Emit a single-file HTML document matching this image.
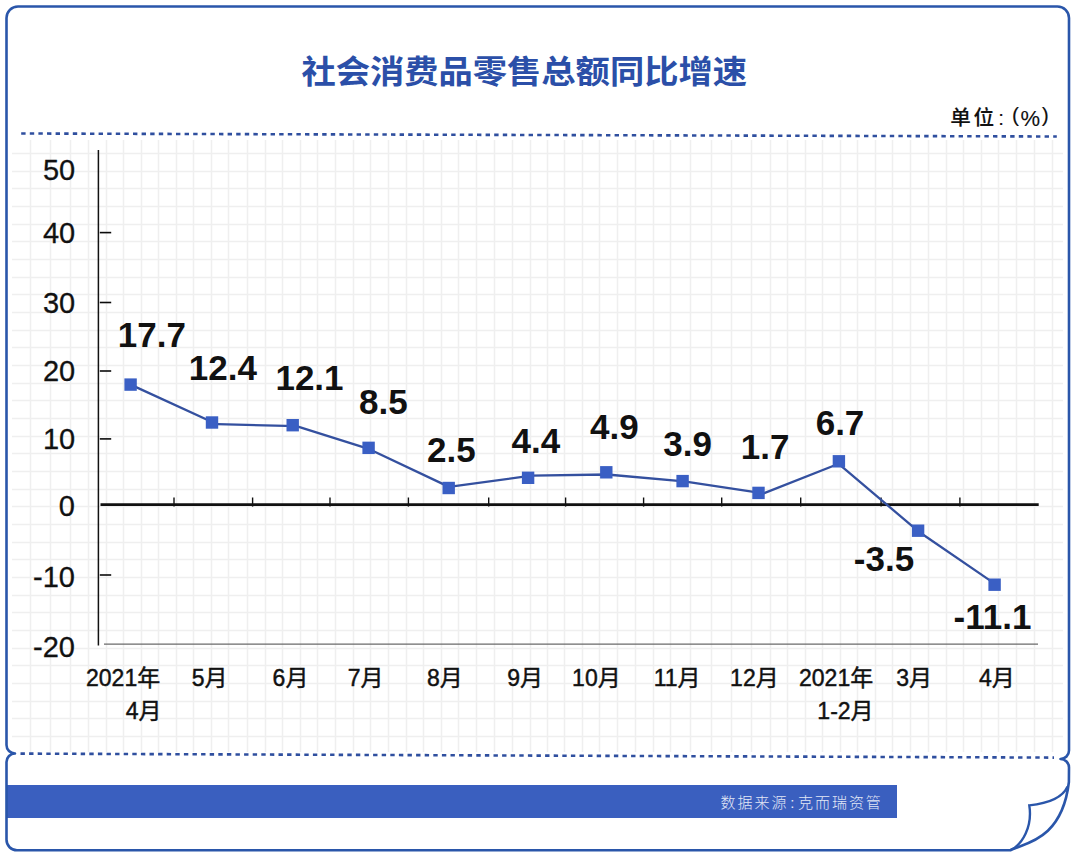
<!DOCTYPE html>
<html><head><meta charset="utf-8"><style>
html,body{margin:0;padding:0;background:#fff;}
body{width:1080px;height:856px;overflow:hidden;position:relative;}
svg{position:absolute;left:0;top:0;}
.dl{font-family:"Liberation Sans", "Noto Sans CJK SC", sans-serif;font-weight:700;font-size:35px;fill:#111;}
.yl{font-family:"Liberation Sans", "Noto Sans CJK SC", sans-serif;font-weight:400;font-size:29px;fill:#111;stroke:#111;stroke-width:0.3px;}
.xl{font-family:"Liberation Sans", "Noto Sans CJK SC", sans-serif;font-weight:400;font-size:23px;fill:#111;stroke:#111;stroke-width:0.45px;}
.title{font-family:"Liberation Sans", "Noto Sans CJK SC", sans-serif;font-weight:700;font-size:34.3px;fill:#2b4fa8;}
.unit{font-family:"Liberation Sans", "Noto Sans CJK SC", sans-serif;font-weight:500;font-size:20.6px;fill:#111;stroke:#111;stroke-width:0.12px;}
.src{font-family:"Liberation Sans", "Noto Sans CJK SC", sans-serif;font-weight:300;font-size:15px;fill:#e3e8f6;}
</style></head><body>
<svg width="1080" height="856" viewBox="0 0 1080 856">
<rect x="0" y="0" width="1080" height="856" fill="#fff"/>
<g stroke="#efefef" stroke-width="1.5"><line x1="30.5" y1="140" x2="30.5" y2="752"/><line x1="50.5" y1="140" x2="50.5" y2="752"/><line x1="70.5" y1="140" x2="70.5" y2="752"/><line x1="88.5" y1="140" x2="88.5" y2="752"/><line x1="106.5" y1="140" x2="106.5" y2="752"/><line x1="123.5" y1="140" x2="123.5" y2="752"/><line x1="141.5" y1="140" x2="141.5" y2="752"/><line x1="158.5" y1="140" x2="158.5" y2="752"/><line x1="176.5" y1="140" x2="176.5" y2="752"/><line x1="193.5" y1="140" x2="193.5" y2="752"/><line x1="211.5" y1="140" x2="211.5" y2="752"/><line x1="228.5" y1="140" x2="228.5" y2="752"/><line x1="247.5" y1="140" x2="247.5" y2="752"/><line x1="265.5" y1="140" x2="265.5" y2="752"/><line x1="282.5" y1="140" x2="282.5" y2="752"/><line x1="300.5" y1="140" x2="300.5" y2="752"/><line x1="317.5" y1="140" x2="317.5" y2="752"/><line x1="335.5" y1="140" x2="335.5" y2="752"/><line x1="353.5" y1="140" x2="353.5" y2="752"/><line x1="370.5" y1="140" x2="370.5" y2="752"/><line x1="388.5" y1="140" x2="388.5" y2="752"/><line x1="406.5" y1="140" x2="406.5" y2="752"/><line x1="423.5" y1="140" x2="423.5" y2="752"/><line x1="441.5" y1="140" x2="441.5" y2="752"/><line x1="458.5" y1="140" x2="458.5" y2="752"/><line x1="476.5" y1="140" x2="476.5" y2="752"/><line x1="494.5" y1="140" x2="494.5" y2="752"/><line x1="512.5" y1="140" x2="512.5" y2="752"/><line x1="530.5" y1="140" x2="530.5" y2="752"/><line x1="547.5" y1="140" x2="547.5" y2="752"/><line x1="564.5" y1="140" x2="564.5" y2="752"/><line x1="582.5" y1="140" x2="582.5" y2="752"/><line x1="599.5" y1="140" x2="599.5" y2="752"/><line x1="617.5" y1="140" x2="617.5" y2="752"/><line x1="635.5" y1="140" x2="635.5" y2="752"/><line x1="653.5" y1="140" x2="653.5" y2="752"/><line x1="670.5" y1="140" x2="670.5" y2="752"/><line x1="690.5" y1="140" x2="690.5" y2="752"/><line x1="711.5" y1="140" x2="711.5" y2="752"/><line x1="731.5" y1="140" x2="731.5" y2="752"/><line x1="751.5" y1="140" x2="751.5" y2="752"/><line x1="770.5" y1="140" x2="770.5" y2="752"/><line x1="787.5" y1="140" x2="787.5" y2="752"/><line x1="805.5" y1="140" x2="805.5" y2="752"/><line x1="822.5" y1="140" x2="822.5" y2="752"/><line x1="840.5" y1="140" x2="840.5" y2="752"/><line x1="857.5" y1="140" x2="857.5" y2="752"/><line x1="875.5" y1="140" x2="875.5" y2="752"/><line x1="892.5" y1="140" x2="892.5" y2="752"/><line x1="910.5" y1="140" x2="910.5" y2="752"/><line x1="928.5" y1="140" x2="928.5" y2="752"/><line x1="946.5" y1="140" x2="946.5" y2="752"/><line x1="963.5" y1="140" x2="963.5" y2="752"/><line x1="981.5" y1="140" x2="981.5" y2="752"/><line x1="998.5" y1="140" x2="998.5" y2="752"/><line x1="1016.5" y1="140" x2="1016.5" y2="752"/><line x1="1034.5" y1="140" x2="1034.5" y2="752"/><line x1="1052.5" y1="140" x2="1052.5" y2="752"/><line x1="12" y1="153.5" x2="1063" y2="153.5"/><line x1="12" y1="171.5" x2="1063" y2="171.5"/><line x1="12" y1="188.5" x2="1063" y2="188.5"/><line x1="12" y1="206.5" x2="1063" y2="206.5"/><line x1="12" y1="224.5" x2="1063" y2="224.5"/><line x1="12" y1="241.5" x2="1063" y2="241.5"/><line x1="12" y1="259.5" x2="1063" y2="259.5"/><line x1="12" y1="277.5" x2="1063" y2="277.5"/><line x1="12" y1="294.5" x2="1063" y2="294.5"/><line x1="12" y1="312.5" x2="1063" y2="312.5"/><line x1="12" y1="330.5" x2="1063" y2="330.5"/><line x1="12" y1="347.5" x2="1063" y2="347.5"/><line x1="12" y1="365.5" x2="1063" y2="365.5"/><line x1="12" y1="383.5" x2="1063" y2="383.5"/><line x1="12" y1="400.5" x2="1063" y2="400.5"/><line x1="12" y1="418.5" x2="1063" y2="418.5"/><line x1="12" y1="436.5" x2="1063" y2="436.5"/><line x1="12" y1="453.5" x2="1063" y2="453.5"/><line x1="12" y1="471.5" x2="1063" y2="471.5"/><line x1="12" y1="489.5" x2="1063" y2="489.5"/><line x1="12" y1="506.5" x2="1063" y2="506.5"/><line x1="12" y1="524.5" x2="1063" y2="524.5"/><line x1="12" y1="542.5" x2="1063" y2="542.5"/><line x1="12" y1="559.5" x2="1063" y2="559.5"/><line x1="12" y1="577.5" x2="1063" y2="577.5"/><line x1="12" y1="595.5" x2="1063" y2="595.5"/><line x1="12" y1="612.5" x2="1063" y2="612.5"/><line x1="12" y1="630.5" x2="1063" y2="630.5"/><line x1="12" y1="648.5" x2="1063" y2="648.5"/><line x1="12" y1="665.5" x2="1063" y2="665.5"/><line x1="12" y1="683.5" x2="1063" y2="683.5"/><line x1="12" y1="701.5" x2="1063" y2="701.5"/><line x1="12" y1="718.5" x2="1063" y2="718.5"/><line x1="12" y1="736.5" x2="1063" y2="736.5"/></g>
<rect x="6.5" y="785" width="890.5" height="33" fill="#3a5fbf"/>
<path d="M6.5,18 A11.5,11.5 0 0 1 18,6.5 L1057.5,6.5 A11.5,11.5 0 0 1 1069,18 L1069,750.5 A8.5,8.5 0 0 1 1060.5,759 A8.5,8.5 0 0 1 1069,767.5 L1068.9,782 C1061.8,842.9 1020.8,843.5 1010.4,850.3 L17,850.3 A10.5,10.5 0 0 1 6.5,839.8 L6.5,762 A8.5,8.5 0 0 1 15,753.5 A8.5,8.5 0 0 1 6.5,745 Z" fill="none" stroke="#2a56aa" stroke-width="2.6" stroke-linejoin="round"/><path d="M1067.6,786.5 Q1060.5,802.1 1029.3,805.4 C1032.6,826.6 1022.6,844.5 1010.4,850.2" fill="none" stroke="#2a56aa" stroke-width="2.4" stroke-linejoin="miter"/>
<line x1="21.2" y1="133.5" x2="1056.8" y2="136.5" stroke="#2f4f9f" stroke-width="2.6" stroke-dasharray="4.4 4.2"/><line x1="20.5" y1="753.6" x2="1054" y2="757.6" stroke="#2f4f9f" stroke-width="2.6" stroke-dasharray="4.4 4.2"/>
<line x1="98.4" y1="150" x2="98.4" y2="645.4" stroke="#111" stroke-width="1.5"/><line x1="99.8" y1="232.6" x2="111.2" y2="232.6" stroke="#0a0a0a" stroke-width="1.6"/><line x1="99.8" y1="302.5" x2="111.2" y2="302.5" stroke="#0a0a0a" stroke-width="1.6"/><line x1="99.8" y1="371.0" x2="111.2" y2="371.0" stroke="#0a0a0a" stroke-width="1.6"/><line x1="99.8" y1="438.9" x2="111.2" y2="438.9" stroke="#0a0a0a" stroke-width="1.6"/><line x1="99.8" y1="575.0" x2="111.2" y2="575.0" stroke="#0a0a0a" stroke-width="1.6"/><line x1="104" y1="644.2" x2="1038" y2="644.2" stroke="#6a6a6a" stroke-width="1.3"/><line x1="174" y1="497.5" x2="174" y2="506.6" stroke="#111" stroke-width="1.4"/><line x1="252.6" y1="497.5" x2="252.6" y2="506.6" stroke="#111" stroke-width="1.4"/><line x1="330" y1="497.5" x2="330" y2="506.6" stroke="#111" stroke-width="1.4"/><line x1="408.4" y1="497.5" x2="408.4" y2="506.6" stroke="#111" stroke-width="1.4"/><line x1="488.7" y1="497.5" x2="488.7" y2="506.6" stroke="#111" stroke-width="1.4"/><line x1="565.6" y1="497.5" x2="565.6" y2="506.6" stroke="#111" stroke-width="1.4"/><line x1="643.6" y1="497.5" x2="643.6" y2="506.6" stroke="#111" stroke-width="1.4"/><line x1="721.7" y1="497.5" x2="721.7" y2="506.6" stroke="#111" stroke-width="1.4"/><line x1="800.7" y1="497.5" x2="800.7" y2="506.6" stroke="#111" stroke-width="1.4"/><line x1="881.1" y1="497.5" x2="881.1" y2="506.6" stroke="#111" stroke-width="1.4"/><line x1="959.9" y1="497.5" x2="959.9" y2="506.6" stroke="#111" stroke-width="1.4"/><line x1="100.5" y1="504.6" x2="1038.7" y2="504.6" stroke="#111" stroke-width="2.6"/>
<polyline points="130.6,384.6 217.0,424.2 296.4,426.1 369.4,449.2 449.0,486.9 531.2,475.7 607.0,474.5 684.0,481.4 763.6,493.4 838.7,463.8 918.1,531.2 994.6,583.6" fill="none" stroke="#34509f" stroke-width="2.3" stroke-linejoin="round"/><rect x="124.40" y="378.40" width="12.4" height="12.4" fill="#3a5fc4"/><rect x="205.80" y="416.30" width="12.4" height="12.4" fill="#3a5fc4"/><rect x="286.50" y="419.00" width="12.4" height="12.4" fill="#3a5fc4"/><rect x="362.40" y="441.65" width="12.4" height="12.4" fill="#3a5fc4"/><rect x="442.50" y="481.80" width="12.4" height="12.4" fill="#3a5fc4"/><rect x="521.90" y="471.60" width="12.4" height="12.4" fill="#3a5fc4"/><rect x="600.10" y="466.10" width="12.4" height="12.4" fill="#3a5fc4"/><rect x="676.40" y="474.90" width="12.4" height="12.4" fill="#3a5fc4"/><rect x="752.30" y="486.70" width="12.4" height="12.4" fill="#3a5fc4"/><rect x="832.70" y="455.10" width="12.4" height="12.4" fill="#3a5fc4"/><rect x="911.90" y="524.50" width="12.4" height="12.4" fill="#3a5fc4"/><rect x="988.40" y="578.50" width="12.4" height="12.4" fill="#3a5fc4"/>
<text x="151.8" y="347.3" text-anchor="middle" class="dl">17.7</text><text x="222.8" y="379.7" text-anchor="middle" class="dl">12.4</text><text x="309.5" y="390.0" text-anchor="middle" class="dl">12.1</text><text x="383.4" y="413.9" text-anchor="middle" class="dl">8.5</text><text x="451.4" y="462.0" text-anchor="middle" class="dl">2.5</text><text x="535.9" y="453.4" text-anchor="middle" class="dl">4.4</text><text x="614.4" y="438.7" text-anchor="middle" class="dl">4.9</text><text x="687.7" y="456.1" text-anchor="middle" class="dl">3.9</text><text x="765.2" y="458.7" text-anchor="middle" class="dl">1.7</text><text x="840.0" y="435.0" text-anchor="middle" class="dl">6.7</text><text x="884.0" y="571.0" text-anchor="middle" class="dl">-3.5</text><text x="992.5" y="629.0" text-anchor="middle" class="dl">-11.1</text><text x="75.2" y="180.0" text-anchor="end" class="yl">50</text><text x="75.2" y="242.8" text-anchor="end" class="yl">40</text><text x="75.2" y="312.7" text-anchor="end" class="yl">30</text><text x="75.2" y="380.8" text-anchor="end" class="yl">20</text><text x="75.2" y="448.6" text-anchor="end" class="yl">10</text><text x="74.9" y="515.5" text-anchor="end" class="yl">0</text><text x="74.9" y="586.8" text-anchor="end" class="yl">-10</text><text x="74.9" y="657.0" text-anchor="end" class="yl">-20</text><text x="209.7" y="686.3" text-anchor="middle" class="xl">5月</text><text x="290.5" y="686.3" text-anchor="middle" class="xl">6月</text><text x="365.7" y="686.3" text-anchor="middle" class="xl">7月</text><text x="444.9" y="686.3" text-anchor="middle" class="xl">8月</text><text x="525.2" y="686.3" text-anchor="middle" class="xl">9月</text><text x="596.4" y="686.3" text-anchor="middle" class="xl">10月</text><text x="677.1" y="686.3" text-anchor="middle" class="xl">11月</text><text x="754.4" y="686.3" text-anchor="middle" class="xl">12月</text><text x="914.1" y="686.3" text-anchor="middle" class="xl">3月</text><text x="996.8" y="686.3" text-anchor="middle" class="xl">4月</text><text x="160.2" y="686.3" text-anchor="end" class="xl">2021年</text><text x="161.5" y="718.8" text-anchor="end" class="xl">4月</text><text x="873.2" y="686.3" text-anchor="end" class="xl">2021年</text><text x="873.6" y="718.5" text-anchor="end" class="xl">1-2月</text>
<text x="0" y="0" transform="translate(524.2,82.9) scale(1.0,0.94)" text-anchor="middle" class="title">社会消费品零售总额同比增速</text>
<text text-anchor="middle" class="unit"><tspan x="960.5" y="125">单</tspan><tspan x="983.8" y="125">位</tspan><tspan x="1001.2" y="125">:</tspan><tspan x="1015.5" y="122" style="font-size:21px">(</tspan><tspan x="1030.2" y="125.6" style="font-size:22px">%</tspan><tspan x="1045.3" y="122" style="font-size:21px">)</tspan></text>
<text x="727.95 745 761.9 778.95 792.3 805.6 822.5 839.6 856.5 873.2" y="808.3" text-anchor="middle" class="src">数据来源:克而瑞资管</text>
</svg>
</body></html>
